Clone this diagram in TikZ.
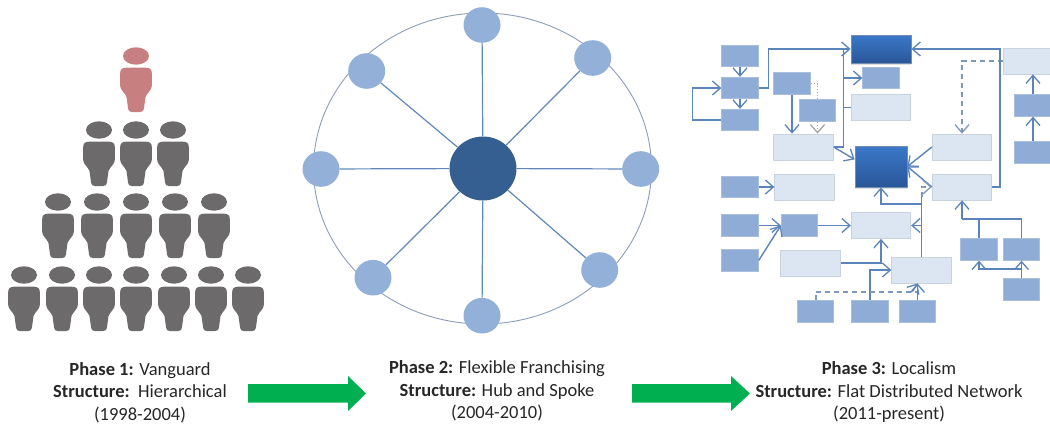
\documentclass[tikz,border=0pt]{standalone}
\usepackage{fontspec}
\setmainfont{Carlito}
\usetikzlibrary{arrows.meta,shadows,shapes.geometric}
\definecolor{med}{HTML}{8FACD6}
\definecolor{medb}{HTML}{A9BFDD}
\definecolor{lite}{HTML}{DCE6F2}
\definecolor{liteb}{HTML}{C9D3E0}
\definecolor{conn}{HTML}{5B84BB}
\definecolor{spoke}{HTML}{6288B8}
\definecolor{ringc}{HTML}{8C9DB5}
\definecolor{sat}{HTML}{93B1D8}
\definecolor{hub}{HTML}{365F91}
\definecolor{darktop}{HTML}{3A78C8}
\definecolor{darkbot}{HTML}{2A5699}
\definecolor{ppl}{HTML}{6D6A6B}
\definecolor{lead}{HTML}{C77F7F}
\definecolor{grn}{HTML}{00B050}
\definecolor{dashc}{HTML}{7F97B8}
\tikzset{
 x=1pt,y=-1pt,
 barb/.style={-{Straight Barb[length=8pt,width=14pt,line width=1.3pt]}},
 medbox/.style={draw=medb,line width=.8pt,fill=med,inner sep=0pt,minimum width=36.5pt,minimum height=21.5pt},
 litebox/.style={draw=liteb,line width=.8pt,fill=lite,inner sep=0pt,minimum width=59.5pt,minimum height=26pt},
 darkbox/.style={draw=hub!70,line width=.8pt,top color=darktop,bottom color=darkbot,inner sep=0pt,drop shadow={shadow xshift=0pt,shadow yshift=-2pt,opacity=.25}},
 link/.style={draw=conn,line width=1.4pt,barb},
 plain/.style={draw=conn,line width=1.4pt},
 dashline/.style={draw=dashc,line width=2pt,dash pattern=on 5pt off 4pt},
 dashlink/.style={dashline,barb},
 dotline/.style={draw=gray!70,line width=1pt,dash pattern=on 1.5pt off 1.5pt},
 spokeline/.style={draw=spoke,line width=1.2pt},
 satnode/.style={ellipse,fill=sat,inner sep=0pt,minimum width=37pt,minimum height=35.6pt},
 caption/.style={align=center,font=\fontsize{18.5}{22.5}\selectfont,text=black!85,inner sep=0pt},
 flow/.style={fill=grn,draw=none},
 person/.pic={
  \fill (0,0) ellipse [x radius=13,y radius=8.7];
  \fill (-10,11.7) .. controls (-14,11.7) and (-15.8,13.5) .. (-15.8,17)
   -- (-15.8,30) .. controls (-15.8,34) and (-11,37) .. (-9.5,41)
   -- (-8,52) .. controls (-7.5,55.5) and (-6,56) .. (-4,56) -- (4,56)
   .. controls (6,56) and (7.5,55.5) .. (8,52) -- (9.5,41)
   .. controls (11,37) and (15.8,34) .. (15.8,30) -- (15.8,17)
   .. controls (15.8,13.5) and (14,11.7) .. (10,11.7) -- cycle;
 }
}
\begin{document}
\begin{tikzpicture}
\useasboundingbox (0,0) rectangle (1050,426);
% people
\pic[lead] at (136,56) {person};
\foreach \x in {99,136,173} \pic[ppl] at (\x,130) {person};
\foreach \x in {58,97,136,175,214} \pic[ppl] at (\x,202) {person};
\foreach \x in {24,62,99,136,174,211,248} \pic[ppl] at (\x,275) {person};
% hub and spoke
\node[ellipse,draw=ringc,line width=.9pt,inner sep=0pt,minimum width=338pt,minimum height=311pt] (ring) at (482.5,168.5) {};
\node[ellipse,fill=hub,inner sep=0pt,minimum width=67pt,minimum height=64pt] (hubnode) at (483,168.5) {};
\foreach \n/\x/\y in {a/482/25,b/592.7/58,c/640.7/169,d/599.7/270,e/482/315.7,f/373/277.7,g/321/169,h/366.7/71}{
 \node[satnode] (s\n) at (\x,\y) {};
 \draw[spokeline] (hubnode) -- (s\n);
}
% network nodes
\node[medbox] (b1) at (740,56) {};
\node[medbox] (b2) at (740,88) {};
\node[medbox] (b3) at (740,120) {};
\node[medbox] (b4) at (792,83.5) {};
\node[medbox] (b5) at (817.5,110.5) {};
\node[litebox] (l6) at (803.5,147) {};
\node[darkbox,minimum width=60pt,minimum height=28pt] (d1) at (881,49) {};
\node[medbox] (b7) at (881,78) {};
\node[litebox] (l8) at (881,107.5) {};
\node[darkbox,minimum width=52pt,minimum height=41pt] (d2) at (881,166.5) {};
\node[litebox] (l9) at (962,147) {};
\node[litebox,minimum width=47pt] (l10) at (1026.5,61) {};
\node[medbox] (b11) at (1033,105.5) {};
\node[medbox] (b12) at (1033,152.5) {};
\node[medbox] (b13) at (740,187) {};
\node[litebox] (l14) at (804.5,187) {};
\node[litebox] (l15) at (962,187) {};
\node[medbox] (b16) at (740,225.5) {};
\node[medbox] (b17) at (799.5,225.5) {};
\node[litebox] (l18) at (881,225.5) {};
\node[medbox] (b19) at (740,260.5) {};
\node[litebox] (l20) at (810.5,263) {};
\node[litebox] (l21) at (921.5,270) {};
\node[medbox] (b22) at (979,249.5) {};
\node[medbox] (b23) at (1021.5,249.5) {};
\node[medbox] (b24) at (1021.5,289.5) {};
\node[medbox] (b25) at (815.5,311.5) {};
\node[medbox] (b26) at (870,311.5) {};
\node[medbox] (b27) at (917.5,311.5) {};
% network connectors
\draw[link] (b1) -- (b2);
\draw[link] (b2) -- (b3);
\draw[link] (b3.west) -- ++(-29,0) |- (b2.west);
\draw[link] (b2.east) -- ++(10,0) |- (d1.west);
\draw[link] (b4.south) -- (b4.south |- l6.north);
\draw[dotline] (b4.east) -| (b5.north);
\draw[dotline,barb] (b5.south) -- (b5.south |- l6.north);
\coordinate (trunk) at (843.5,147);
\draw[plain] (l6.east) -- (trunk) -- (trunk |- d1.west);
\draw[link] (trunk |- b7.west) -- (b7.west);
\draw[plain] (trunk |- l8.west) -- (l8.west);
\draw[link] (l6.east) -- (d2.165);
\draw[link] (l9.west) -- (d2.east);
\draw[link] (l15.west) -- (d2.east);
\draw[dashlink] (l10.west) -| (l9.north);
\draw[link] (l15.east) -- ++(8,0) |- (d1.east);
\coordinate (up) at (921.5,204);
\coordinate (gap) at (921.5,197);
\draw[plain] (l21.north) -- (gap);
\draw[link] (up) -| (d2.south);
\draw[dashlink] (gap) |- (l15.west);
\draw[link] (up |- l18.east) -- (l18.east);
\draw[link] (b13) -- (l14);
\draw[link] (b16) -- (b17);
\draw[link] (b19.east) -- (b17.west);
\draw[link] (b17) -- (l18);
\draw[link] (l20.east) -| (l18.south);
\draw[link] (b26.north) |- (l21.west);
\coordinate (dl) at (815.5,291.5);
\draw[dashline] (b25.north) -- (dl) -- (dl -| b27.north);
\draw[link] (b27.north) -- (b27.north |- l21.south);
\draw[link] ([xshift=-5]dl -| b27.north) -- ([xshift=-4]l21.south);
\coordinate (j) at (962,219);
\draw[plain] (b22.north) -- (b22.north |- j);
\draw[plain] (b23.north) -- (b23.north |- j) -- (j);
\draw[link] (j) -- (l15.south);
\draw[link] (b24.north) -- (b23.south);
\coordinate (k) at (1021.5,269);
\draw[link] (k) -| (b22.south);
\draw[link] (b12.north) -- (b11.south);
\draw[link] (b11.north) -- (b11.north |- l10.south);
% flow arrows
\fill[flow] (248,384) -- (348,384) -- (348,376) -- (366,393.5) -- (348,411) -- (348,402.5) -- (248,402.5) -- cycle;
\fill[flow] (632,384) -- (731,384) -- (731,376) -- (750,393.5) -- (731,411) -- (731,402.5) -- (632,402.5) -- cycle;
% captions
\node[caption] (t1) at (140,392.5) {\textbf{Phase 1:} Vanguard\\\textbf{Structure:}\ \ Hierarchical\\(1998-2004)};
\node[caption] (t2) at (497,391) {\textbf{Phase 2:} Flexible Franchising\\\textbf{Structure:} Hub and Spoke\\(2004-2010)};
\node[caption] (t3) at (889,392) {\textbf{Phase 3:} Localism\\\textbf{Structure:} Flat Distributed Network\\(2011-present)};
\end{tikzpicture}
\end{document}
